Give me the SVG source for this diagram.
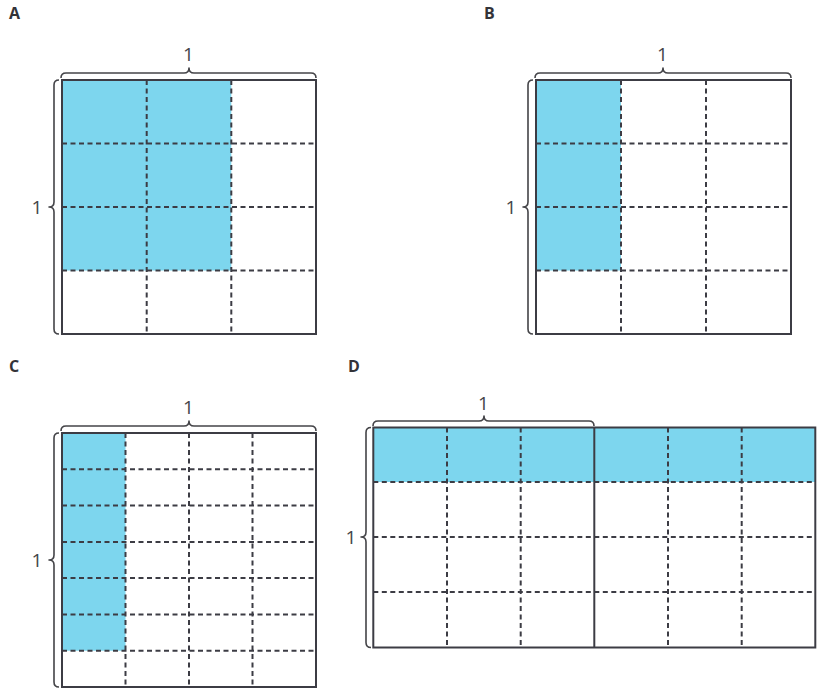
<svg xmlns="http://www.w3.org/2000/svg" width="817" height="688" viewBox="0 0 817 688">
<style>
.bg{fill:#ffffff}
.fill{fill:#7dd6ee;stroke:none}
.dash{stroke:#3c3c44;stroke-width:2;stroke-dasharray:5 3.5;fill:none}
.solid{stroke:#3c3c44;stroke-width:2;fill:none}
.brace{stroke:#444448;stroke-width:1.6;fill:none;stroke-linejoin:round}
.one{font-family:"Open Sans","Liberation Sans",sans-serif;font-size:19px;fill:#444448;text-anchor:middle}
.panel{font-family:"Open Sans","Liberation Sans",sans-serif;font-size:16px;font-weight:bold;fill:#333338}
</style>
<rect class="bg" x="0" y="0" width="817" height="688"/>

<g id="panelA">
  <text class="panel" x="9" y="19">A</text>
  <rect class="fill" x="62" y="80" width="169.3" height="190.5"/>
  <path class="dash" d="M146.7,80V334M231.3,80V334M62,143.5H316M62,207H316M62,270.5H316"/>
  <rect class="solid" x="62" y="80" width="254" height="254"/>
  <path class="brace" d="M61,78Q61,73 66,73H184Q189,73 189,68Q189,73 194,73H311Q316,73 316,78"/>
  <text class="one" x="188.5" y="61">1</text>
  <path class="brace" d="M59,80Q54,80 54,85V202Q54,207 49,207Q54,207 54,212V329Q54,334 59,334"/>
  <text class="one" x="37" y="214">1</text>
</g>

<g id="panelB">
  <text class="panel" x="484" y="19">B</text>
  <rect class="fill" x="536" y="80" width="85" height="190.5"/>
  <path class="dash" d="M621,80V334M706,80V334M536,143.5H791M536,207H791M536,270.5H791"/>
  <rect class="solid" x="536" y="80" width="255" height="254"/>
  <path class="brace" d="M535,78Q535,73 540,73H658Q663,73 663,68Q663,73 668,73H786Q791,73 791,78"/>
  <text class="one" x="662.5" y="61">1</text>
  <path class="brace" d="M533,80Q528,80 528,85V202Q528,207 523,207Q528,207 528,212V329Q528,334 533,334"/>
  <text class="one" x="511" y="214">1</text>
</g>

<g id="panelC">
  <text class="panel" x="9" y="372">C</text>
  <rect class="fill" x="62" y="433" width="63.5" height="217.7"/>
  <path class="dash" d="M125.5,433V687M189,433V687M252.5,433V687M62,469.3H316M62,505.6H316M62,541.9H316M62,578.1H316M62,614.4H316M62,650.7H316"/>
  <rect class="solid" x="62" y="433" width="254" height="254"/>
  <path class="brace" d="M61,431Q61,426 66,426H184Q189,426 189,421Q189,426 194,426H311Q316,426 316,431"/>
  <text class="one" x="188.5" y="414">1</text>
  <path class="brace" d="M59,433Q54,433 54,438V555Q54,560 49,560Q54,560 54,565V682Q54,687 59,687"/>
  <text class="one" x="37" y="567">1</text>
</g>

<g id="panelD">
  <text class="panel" x="348" y="372">D</text>
  <rect class="fill" x="373.3" y="427.5" width="442" height="54.5"/>
  <path class="dash" d="M447,427.5V647.5M520.7,427.5V647.5M668,427.5V647.5M741.7,427.5V647.5M373.3,482H815.3M373.3,537H815.3M373.3,592H815.3"/>
  <path class="solid" d="M594.3,427.5V647.5"/>
  <rect class="solid" x="373.3" y="427.5" width="442" height="220"/>
  <path class="brace" d="M373,426Q373,421 378,421H479Q484,421 484,416Q484,421 489,421H589Q594,421 594,426"/>
  <text class="one" x="483.5" y="410">1</text>
  <path class="brace" d="M371,427.5Q366,427.5 366,432.5V532Q366,537 361,537Q366,537 366,542V642.5Q366,647.5 371,647.5"/>
  <text class="one" x="351" y="544">1</text>
</g>
</svg>
